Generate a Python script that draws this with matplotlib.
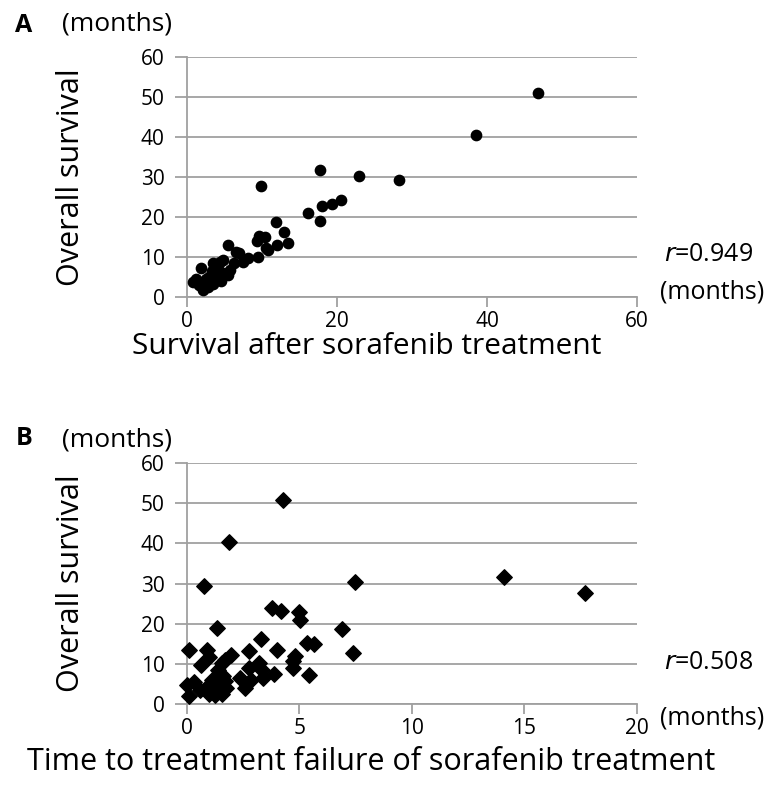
import matplotlib.pyplot as plt

plt.rcParams["font.family"] = ["Open Sans", "DejaVu Sans"]

# Panel A: survival after sorafenib vs overall survival (months)
sas_months = [46.8, 38.6, 17.8, 22.9, 28.3, 9.9, 20.5, 19.3, 18.0, 16.1,
              17.8, 11.9, 13.0, 9.6, 10.4, 9.3, 13.5, 5.5, 12.0, 10.5,
              10.8, 6.6, 7.0, 9.5, 8.2, 7.5, 4.4, 6.3, 4.8, 1.9,
              3.5, 4.1, 3.4, 4.8, 3.7, 5.5, 3.0, 4.2, 2.6, 0.8,
              2.3, 3.5, 1.6, 2.2, 2.8, 1.2, 4.5, 3.9, 5.8, 2.0]
os_a = [50.9, 40.5, 31.8, 30.3, 29.3, 27.8, 24.2, 23.2, 22.8, 21.0,
        19.0, 18.7, 16.2, 15.2, 14.9, 13.9, 13.4, 13.0, 13.0, 12.3,
        11.7, 11.3, 10.9, 10.0, 9.7, 8.8, 8.8, 8.4, 9.2, 7.2,
        8.4, 7.0, 6.5, 6.1, 5.8, 5.4, 5.0, 4.7, 4.4, 3.8,
        3.7, 3.3, 3.0, 1.8, 2.6, 4.6, 4.0, 5.5, 6.8, 2.4]

# Panel B: time to treatment failure vs overall survival (months)
ttf_months = [4.28, 1.87, 0.77, 7.47, 14.1, 17.7, 6.9, 7.36, 3.76, 4.2,
              5.0, 5.02, 1.35, 3.27, 5.32, 5.66, 0.1, 0.87, 1.0, 2.77,
              3.98, 4.8, 4.72, 1.96, 1.69, 1.54, 0.61, 4.72, 2.77, 3.21,
              3.32, 3.88, 5.43, 2.36, 2.83, 3.36, 2.58, 0.0, 0.33, 0.1,
              0.9, 1.2, 1.55, 1.75, 1.3, 1.6, 1.4, 1.1, 1.0, 1.45,
              0.6, 1.25, 1.7, 0.95]
os_b = [50.7, 40.4, 29.4, 30.4, 31.7, 27.7, 18.7, 12.8, 24.0, 23.1,
        22.8, 20.9, 18.8, 16.2, 15.1, 14.9, 13.4, 13.4, 11.8, 13.3,
        13.4, 11.9, 10.7, 12.2, 10.9, 10.1, 9.7, 8.9, 8.9, 10.1,
        8.5, 7.5, 7.2, 6.4, 6.0, 6.4, 3.9, 4.7, 5.5, 2.0,
        3.7, 3.0, 2.6, 4.0, 5.2, 7.0, 8.5, 6.0, 2.4, 4.6,
        3.6, 2.2, 5.8, 4.4]

y_ticks = [0, 10, 20, 30, 40, 50, 60]
grid_col = "#a0a0a0"

fig = plt.figure(figsize=(7.72, 7.89), dpi=100)
ax_a = fig.add_axes([0.2422, 0.6236, 0.5829, 0.3042])
ax_b = fig.add_axes([0.2422, 0.1077, 0.5829, 0.3055])


def style(ax, xticks):
    ax.set_ylim(0, 60)
    ax.set_xlim(xticks[0], xticks[-1])
    ax.set_yticks(y_ticks)
    ax.set_xticks(xticks)
    ax.yaxis.grid(True, color=grid_col, linewidth=1.3)
    ax.set_axisbelow(True)
    for s in ("top", "right"):
        ax.spines[s].set_visible(False)
    for s in ("left", "bottom"):
        ax.spines[s].set_color(grid_col)
        ax.spines[s].set_linewidth(1.3)
    ax.tick_params(axis="y", direction="out", length=9, width=1.3,
                   color=grid_col, labelsize=15, pad=7)
    ax.tick_params(axis="x", direction="out", length=7, width=1.3,
                   color=grid_col, labelsize=15, pad=3)
    ax.set_ylabel("Overall survival", fontsize=22)
    ax.yaxis.set_label_coords(-0.225, 0.5)


style(ax_a, [0, 20, 40, 60])
ax_a.scatter(sas_months, os_a, s=55, color="black", marker="o", zorder=3,
             clip_on=False)
ax_a.set_xlabel("Survival after sorafenib treatment", fontsize=21.5)
ax_a.xaxis.set_label_coords(0.40, -0.145)

style(ax_b, [0, 5, 10, 15, 20])
ax_b.scatter(ttf_months, os_b, s=62, color="black", marker="D", zorder=3,
             clip_on=False)
ax_b.set_xlabel("Time to treatment failure of sorafenib treatment",
                fontsize=22)
ax_b.xaxis.set_label_coords(0.41, -0.18)

fig.text(0.020, 0.968, "A", fontsize=18, fontweight="bold", va="center")
fig.text(0.080, 0.970, "(months)", fontsize=19, va="center")
fig.text(0.860, 0.677, "$r$=0.949", fontsize=18, va="center")
fig.text(0.855, 0.630, "(months)", fontsize=18, va="center")

fig.text(0.020, 0.444, "B", fontsize=18, fontweight="bold", va="center")
fig.text(0.080, 0.442, "(months)", fontsize=19, va="center")
fig.text(0.860, 0.160, "$r$=0.508", fontsize=18, va="center")
fig.text(0.855, 0.090, "(months)", fontsize=18, va="center")

fig.savefig("out.png", dpi=100)
